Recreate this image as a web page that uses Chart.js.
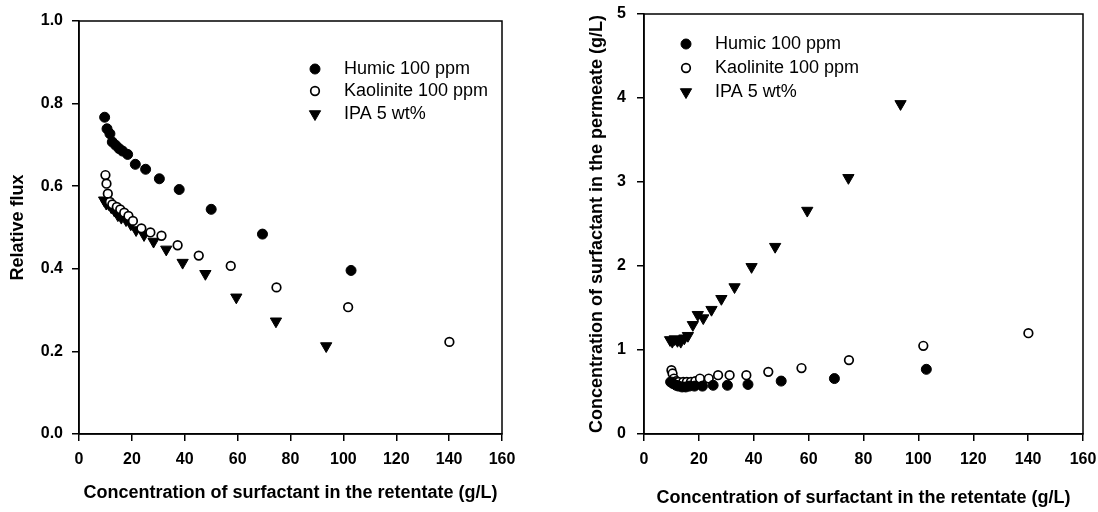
<!DOCTYPE html>
<html>
<head>
<meta charset="utf-8">
<script src="https://cdn.jsdelivr.net/npm/chart.js@4.4.1/dist/chart.umd.min.js"></script>
<style>
    html, body { margin: 0; padding: 0; background: #fff; }
    #wrap { position: relative; width: 1098px; height: 512px; }
    .box { position: absolute; top: 0; height: 512px; }
    #leftBox { left: 0; width: 540px; }
    #rightBox { left: 540px; width: 558px; }
</style>
</head>
<body>
<div id="wrap">
    <div class="box" id="leftBox"><canvas id="fluxChart"></canvas></div>
    <div class="box" id="rightBox"><canvas id="permChart"></canvas></div>
</div>
<script>
// data
const humicX = [9.7, 10.6, 11.7, 12.6, 13.9, 15.2, 16.5, 18.4, 21.3, 25.2, 30.4, 37.9, 50.0, 69.4, 102.9];
const humicFlux = [0.767, 0.739, 0.727, 0.707, 0.699, 0.691, 0.685, 0.677, 0.653, 0.641, 0.618, 0.592, 0.544, 0.484, 0.396];
const humicPerm = [0.62, 0.60, 0.58, 0.57, 0.56, 0.56, 0.57, 0.57, 0.57, 0.58, 0.58, 0.59, 0.63, 0.66, 0.77];

const kaolX = [10.0, 10.4, 10.9, 11.7, 12.6, 14.3, 15.6, 17.1, 18.7, 20.4, 23.6, 27.0, 31.2, 37.3, 45.3, 57.4, 74.7, 101.8, 140.1];
const kaolFlux = [0.627, 0.606, 0.582, 0.562, 0.556, 0.550, 0.544, 0.536, 0.528, 0.516, 0.498, 0.488, 0.480, 0.457, 0.432, 0.407, 0.355, 0.307, 0.223];
const kaolPerm = [0.76, 0.72, 0.66, 0.63, 0.62, 0.62, 0.62, 0.62, 0.63, 0.66, 0.66, 0.70, 0.70, 0.70, 0.74, 0.785, 0.88, 1.05, 1.20];

const ipaX = [9.5, 10.3, 11.2, 12.2, 13.4, 14.7, 16.0, 17.8, 19.6, 21.6, 24.6, 28.2, 33.0, 39.2, 47.8, 59.5, 74.5, 93.5];
const ipaFlux = [0.566, 0.558, 0.557, 0.549, 0.541, 0.530, 0.524, 0.518, 0.508, 0.494, 0.482, 0.466, 0.447, 0.415, 0.388, 0.331, 0.273, 0.213];
const ipaPerm = [1.12, 1.10, 1.13, 1.11, 1.10, 1.14, 1.17, 1.30, 1.42, 1.38, 1.48, 1.61, 1.75, 1.99, 2.23, 2.66, 3.05, 3.93];

const seriesNames = ['Humic 100 ppm', 'Kaolinite 100 ppm', 'IPA 5 wt%'];
const xTicks = [0, 20, 40, 60, 80, 100, 120, 140, 160];
const xTitle = 'Concentration of surfactant in the retentate (g/L)';

const FONT = "'Liberation Sans', Arial, sans-serif";

function pts(xs, ys) {
    return xs.map((x, i) => ({ x: x, y: ys[i] }));
}

const markers = [
    { pointStyle: 'circle', pointRadius: 5, backgroundColor: '#000', borderColor: '#000', borderWidth: 1 },
    { pointStyle: 'circle', pointRadius: 4.3, backgroundColor: '#fff', borderColor: '#000', borderWidth: 1.7 },
    { pointStyle: 'triangle', pointRadius: 6.5, rotation: 180, backgroundColor: '#000', borderColor: '#000', borderWidth: 1 }
];

function makeSets(ys) {
    const xs = [humicX, kaolX, ipaX];
    return ys.map((y, i) => Object.assign({
        label: seriesNames[i],
        data: pts(xs[i], y),
        pointHoverRadius: markers[i].pointRadius
    }, markers[i]));
}

// box round the plot + legend in the plot area
const framePlugin = {
    id: 'frame',
    afterDraw(chart, args, opts) {
        const ctx = chart.ctx;
        const a = chart.chartArea;
        ctx.save();
        ctx.strokeStyle = '#000';
        ctx.lineWidth = 1.5;
        ctx.strokeRect(a.left, a.top, a.right - a.left, a.bottom - a.top);

        ctx.font = '18px ' + FONT;
        ctx.textBaseline = 'middle';
        ctx.fillStyle = '#000';
        seriesNames.forEach((name, i) => {
            const mx = a.left + opts.mx;
            const my = a.top + opts.rows[i];
            const m = markers[i];
            ctx.beginPath();
            if (m.pointStyle === 'triangle') {
                const r = m.pointRadius;
                ctx.moveTo(mx, my + r);
                ctx.lineTo(mx - r * 0.866, my - r * 0.5);
                ctx.lineTo(mx + r * 0.866, my - r * 0.5);
                ctx.closePath();
            } else {
                ctx.arc(mx, my, m.pointRadius, 0, Math.PI * 2);
            }
            ctx.fillStyle = m.backgroundColor;
            ctx.fill();
            ctx.lineWidth = m.borderWidth;
            ctx.strokeStyle = '#000';
            ctx.stroke();
            ctx.fillStyle = '#000';
            ctx.fillText(name, a.left + opts.tx, my);
        });
        ctx.restore();
    }
};

function buildChart(id, ys, cfg) {
    return new Chart(document.getElementById(id), {
        type: 'scatter',
        data: { datasets: makeSets(ys) },
        plugins: [framePlugin],
        options: {
            responsive: true,
            maintainAspectRatio: false,
            animation: false,
            layout: { padding: cfg.padding },
            plugins: {
                legend: { display: false },
                tooltip: { enabled: false },
                frame: cfg.legend
            },
            scales: {
                x: {
                    type: 'linear',
                    min: 0,
                    max: 160,
                    afterBuildTicks: s => { s.ticks = xTicks.map(v => ({ value: v })); },
                    afterFit: s => { s.height = 78; s.paddingLeft = 0; s.paddingRight = 0; },
                    grid: { display: true, drawOnChartArea: false, drawTicks: true, tickLength: 7, color: '#000', lineWidth: 1.5 },
                    border: { display: true, color: '#000', width: 1.5 },
                    ticks: { color: '#000', padding: 9, maxRotation: 0, font: { family: FONT, size: 16, weight: 'bold' } },
                    title: { display: true, text: xTitle, color: '#000', padding: { top: 0, bottom: cfg.xTitlePad }, font: { family: FONT, size: 18, weight: 'bold' } }
                },
                y: {
                    type: 'linear',
                    min: 0,
                    max: cfg.yMax,
                    afterBuildTicks: s => { s.ticks = cfg.yTicks.map(v => ({ value: v })); },
                    afterFit: s => { s.width = cfg.yWidth; s.paddingTop = 0; s.paddingBottom = 0; },
                    grid: { display: true, drawOnChartArea: false, drawTicks: true, tickLength: 7, color: '#000', lineWidth: 1.5 },
                    border: { display: true, color: '#000', width: 1.5 },
                    ticks: {
                        color: '#000',
                        padding: cfg.yTickPad,
                        font: { family: FONT, size: 16, weight: 'bold' },
                        callback: cfg.yFormat
                    },
                    title: { display: true, text: cfg.yTitle, color: '#000', padding: { top: cfg.yTitlePad, bottom: 0 }, font: { family: FONT, size: 18, weight: 'bold' } }
                }
            }
        }
    });
}

window.onload = function() {
    buildChart('fluxChart', [humicFlux, kaolFlux, ipaFlux], {
        padding: { left: 0, right: 38, top: 21, bottom: 0 },
        yMax: 1.0,
        yTicks: [0, 0.2, 0.4, 0.6, 0.8, 1.0],
        yFormat: v => v.toFixed(1),
        yWidth: 79,
        yTickPad: 9,
        yTitle: 'Relative flux',
        yTitlePad: 7,
        xTitlePad: 8,
        legend: { mx: 236, tx: 265, rows: [48, 70, 93] }
    });

    buildChart('permChart', [humicPerm, kaolPerm, ipaPerm], {
        padding: { left: 0, right: 15, top: 14, bottom: 0 },
        yMax: 5,
        yTicks: [0, 1, 2, 3, 4, 5],
        yFormat: v => String(v),
        yWidth: 104,
        yTickPad: 11,
        yTitle: 'Concentration of surfactant in the permeate (g/L)',
        yTitlePad: 46,
        xTitlePad: 3,
        legend: { mx: 42, tx: 71, rows: [30, 54, 78] }
    });
};
</script>
</body>
</html>
